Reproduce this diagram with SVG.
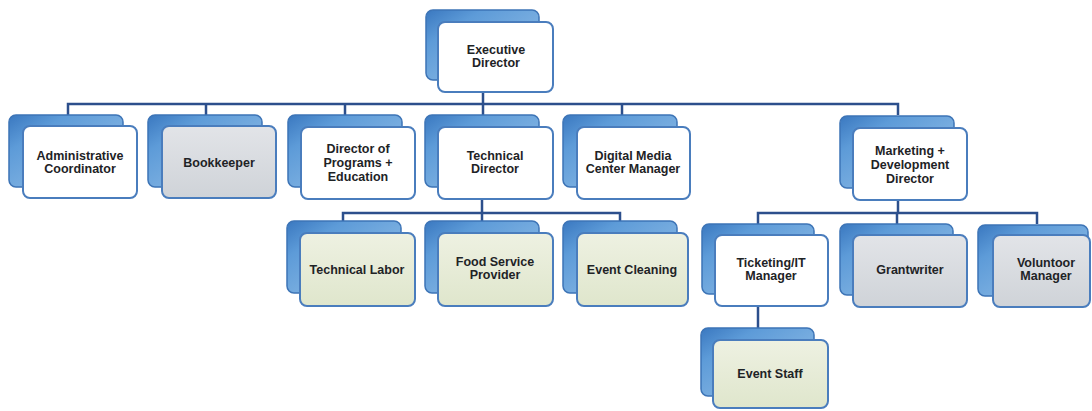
<svg xmlns="http://www.w3.org/2000/svg" width="1092" height="411" viewBox="0 0 1092 411">
<defs>
<linearGradient id="gBack" x1="0" y1="0" x2="1" y2="1">
<stop offset="0" stop-color="#3a78c0"/>
<stop offset="0.25" stop-color="#5d9bd8"/>
<stop offset="1" stop-color="#9cc5ea"/>
</linearGradient>
<linearGradient id="gGray" x1="0" y1="0" x2="0" y2="1">
<stop offset="0" stop-color="#e2e4e8"/>
<stop offset="1" stop-color="#cfd3d8"/>
</linearGradient>
<linearGradient id="gGreen" x1="0" y1="0" x2="0" y2="1">
<stop offset="0" stop-color="#eef1e2"/>
<stop offset="1" stop-color="#dfe6cc"/>
</linearGradient>
</defs>
<style>
.back{fill:url(#gBack);stroke:#3d74b6;stroke-width:1.5}
.front{stroke:#4a7dbd;stroke-width:2}
.w{fill:#ffffff}
.g{fill:url(#gGray)}
.n{fill:url(#gGreen)}
text{font-family:"Liberation Sans",Arial,sans-serif;font-weight:bold;font-size:12.5px;fill:#1e2326;text-anchor:middle}
.con{fill:none;stroke:#2c4f8c;stroke-width:2.5}
</style>
<rect width="1092" height="411" fill="#ffffff"/>
<g id="connectors" class="con">
<path d="M483 92V104M68 115V104H898V115M206 104V115M345 104V115M622 104V115M483 104V115"/>
<path d="M482 199V213M343 222V213H620V222M482 213V222"/>
<path d="M898 200V213M758 224V213H1037V224M897 213V224"/>
<path d="M758 306V328"/>
</g>
<g id="executive-director">
<rect class="back" x="426" y="10" width="113" height="70" rx="7"/>
<rect class="front w" x="438" y="22" width="115" height="70" rx="7"/>
<text x="496" y="54">Executive</text>
<text x="496" y="67">Director</text>
</g>
<g id="administrative-coordinator">
<rect class="back" x="9" y="115" width="114" height="72" rx="7"/>
<rect class="front w" x="23" y="126" width="114" height="72" rx="7"/>
<text x="80" y="160">Administrative</text>
<text x="80" y="173">Coordinator</text>
</g>
<g id="bookkeeper">
<rect class="back" x="148" y="115" width="114" height="72" rx="7"/>
<rect class="front g" x="162" y="126" width="114" height="72" rx="7"/>
<text x="219" y="167">Bookkeeper</text>
</g>
<g id="director-programs-education">
<rect class="back" x="288" y="115" width="114" height="72" rx="7"/>
<rect class="front w" x="301" y="127" width="114" height="72" rx="7"/>
<text x="358" y="153">Director of</text>
<text x="358" y="167">Programs +</text>
<text x="358" y="181">Education</text>
</g>
<g id="technical-director">
<rect class="back" x="425" y="115" width="114" height="72" rx="7"/>
<rect class="front w" x="438" y="127" width="115" height="72" rx="7"/>
<text x="495" y="160">Technical</text>
<text x="495" y="173">Director</text>
</g>
<g id="digital-media-center-manager">
<rect class="back" x="563" y="115" width="114" height="72" rx="7"/>
<rect class="front w" x="577" y="127" width="113" height="72" rx="7"/>
<text x="633" y="160">Digital Media</text>
<text x="633" y="173">Center Manager</text>
</g>
<g id="marketing-development-director">
<rect class="back" x="840" y="116" width="114" height="72" rx="7"/>
<rect class="front w" x="853" y="128" width="114" height="72" rx="7"/>
<text x="910" y="155">Marketing +</text>
<text x="910" y="169">Development</text>
<text x="910" y="183">Director</text>
</g>
<g id="technical-labor">
<rect class="back" x="287" y="221" width="114" height="72" rx="7"/>
<rect class="front n" x="300" y="233" width="115" height="73" rx="7"/>
<text x="357" y="274">Technical Labor</text>
</g>
<g id="food-service-provider">
<rect class="back" x="425" y="221" width="114" height="72" rx="7"/>
<rect class="front n" x="438" y="233" width="115" height="73" rx="7"/>
<text x="495" y="266">Food Service</text>
<text x="495" y="279">Provider</text>
</g>
<g id="event-cleaning">
<rect class="back" x="563" y="221" width="114" height="72" rx="7"/>
<rect class="front n" x="577" y="233" width="111" height="73" rx="7"/>
<text x="632" y="274">Event Cleaning</text>
</g>
<g id="ticketing-it-manager">
<rect class="back" x="702" y="224" width="112" height="70" rx="7"/>
<rect class="front w" x="715" y="235" width="113" height="71" rx="7"/>
<text x="771" y="267">Ticketing/IT</text>
<text x="771" y="280">Manager</text>
</g>
<g id="grantwriter">
<rect class="back" x="840" y="224" width="113" height="71" rx="7"/>
<rect class="front g" x="853" y="235" width="114" height="72" rx="7"/>
<text x="910" y="274">Grantwriter</text>
</g>
<g id="volunteer-manager">
<rect class="back" x="978" y="225" width="110" height="71" rx="7"/>
<rect class="front g" x="993" y="235" width="97" height="72" rx="7"/>
<text x="1046" y="267">Voluntoor</text>
<text x="1046" y="280">Manager</text>
</g>
<g id="event-staff">
<rect class="back" x="701" y="328" width="113" height="68" rx="7"/>
<rect class="front n" x="713" y="340" width="115" height="68" rx="7"/>
<text x="770" y="378">Event Staff</text>
</g>
</svg>
